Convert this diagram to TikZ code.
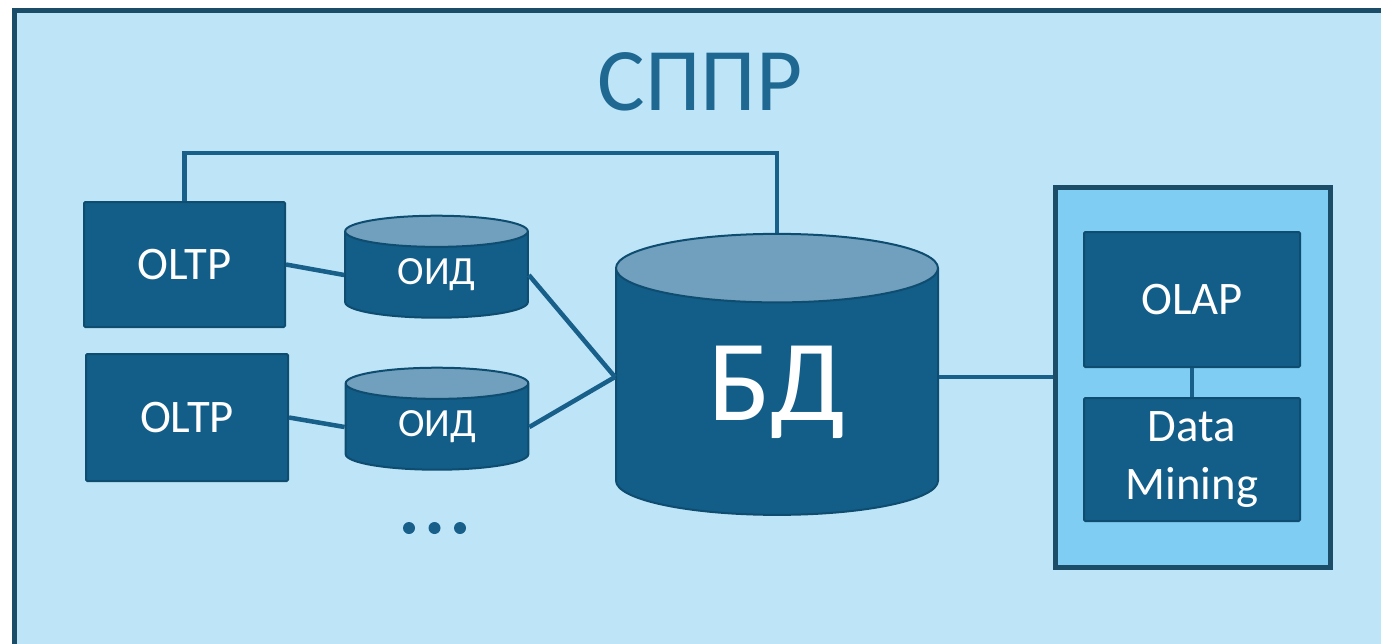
\documentclass[tikz,border=0pt]{standalone}
\usepackage{fontspec}
\setmainfont{Carlito}
\usetikzlibrary{shapes.geometric}

\definecolor{frameline}{RGB}{28,77,104}
\definecolor{backfill}{RGB}{190,229,247}
\definecolor{boxfill}{RGB}{19,94,137}
\definecolor{boxline}{RGB}{14,76,112}
\definecolor{cyltop}{RGB}{112,160,189}
\definecolor{toolfill}{RGB}{128,205,243}
\definecolor{linkline}{RGB}{24,96,138}
\definecolor{titletext}{RGB}{31,104,146}

\begin{document}
\begin{tikzpicture}[x=0.75pt,y=0.75pt,yscale=-1,xscale=1,
    sysbox/.style={draw=boxline, line width=1.5pt, fill=boxfill, rounded corners=1pt,
        text=white, font=\fontsize{35}{44}\selectfont, align=center, inner sep=0pt},
    datacyl/.style={cylinder, shape border rotate=90, draw=boxline, line width=1.5pt,
        cylinder uses custom fill, cylinder body fill=boxfill, cylinder end fill=cyltop,
        text=white, inner sep=0pt},
    link/.style={draw=linkline, line width=3.4pt}]
    \path[use as bounding box, clip] (0,0) rectangle (1381,643);

    %Outer frame
    \draw [draw=frameline, line width=3.75pt, fill=backfill] (14,10) rectangle (1420,680) ;

    % Title
    \node [text=titletext, font=\fontsize{67}{70}\selectfont] (title) at (700,82) {СППР};

    % Sources
    \node [sysbox, minimum width=150.75pt, minimum height=93.75pt] (oltpa) at (184.5,264.5) {OLTP};
    \node [sysbox, minimum width=151.5pt, minimum height=95.25pt] (oltpb) at (187,417.5) {OLTP};

    % Operational stores
    \node [datacyl, aspect=0.4, minimum width=137pt, minimum height=76.5pt,
        font=\fontsize{30}{34}\selectfont] (oida) at (436.5,275) {ОИД};
    \node [datacyl, aspect=0.4, minimum width=137pt, minimum height=76.5pt,
        font=\fontsize{30}{34}\selectfont] (oidb) at (437,427) {ОИД};

    % Main database
    \node [datacyl, aspect=0.5, minimum width=241.5pt, minimum height=210.75pt,
        font=\fontsize{87}{90}\selectfont] (bd) at (777,392) {БД};

    % Analysis tools
    \node [draw=frameline, line width=3.75pt, fill=toolfill, minimum width=206.25pt,
        minimum height=285pt] (tools) at (1192.5,377) {};
    \node [sysbox, minimum width=162pt, minimum height=101.25pt] (olap) at (1192,299.5) {OLAP};
    \node [sysbox, minimum width=162pt, minimum height=92.25pt] (dm) at (1192,459.5) {Data\\Mining};

    % Dots
    \foreach \i/\xx in {1/409,2/434.5,3/460}
        \node [circle, fill=linkline, inner sep=0pt, minimum size=9pt] (dot\i) at (\xx,528) {};

    % Link ends on the database
    \coordinate (bdin) at (bd.west |- tools.west);
    \coordinate (bdout) at (bd.east |- tools.west);

    % Links
    \draw [link] (oltpa.north) -- ++(0,-48) -| (bd.north) ;
    \draw [link] (oltpa.east) -- (oida.west) ;
    \draw [link] (oltpb.east) -- (oidb.west) ;
    \draw [link] (oida.east) -- (bdin) ;
    \draw [link] (oidb.east) -- (bdin) ;
    \draw [link] (bdout) -- (tools.west) ;
    \draw [link] (olap.south) -- (dm.north) ;
\end{tikzpicture}
\end{document}
